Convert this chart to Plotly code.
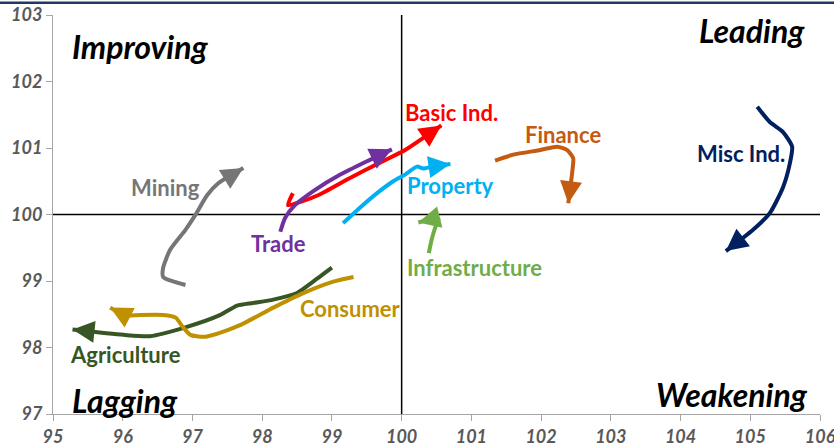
import math
import plotly.graph_objects as go

# ---- data (x = relative strength ratio, y = momentum) ----
basic_x = [98.44, 98.37, 98.55, 98.80, 99.26, 99.69, 100.05, 100.57]
basic_y = [100.32, 100.14, 100.19, 100.29, 100.55, 100.78, 100.97, 101.34]

trade_x = [98.26, 98.33, 98.47, 98.76, 99.12, 99.48, 99.86]
trade_y = [99.74, 99.95, 100.14, 100.37, 100.60, 100.79, 100.98]

property_x = [99.16, 99.41, 99.67, 99.88, 100.05, 100.22, 100.31, 100.44, 100.70]
property_y = [99.87, 100.11, 100.34, 100.50, 100.60, 100.72, 100.69, 100.72, 100.76]

infra_x = [100.39, 100.43, 100.48, 100.53, 100.47, 100.24]
infra_y = [99.42, 99.62, 99.80, 99.93, 99.94, 99.88]

finance_x = [101.34, 101.60, 101.99, 102.23, 102.37, 102.46, 102.45, 102.39]
finance_y = [100.81, 100.90, 100.97, 101.02, 100.97, 100.85, 100.67, 100.17]

misc_x = [105.10, 105.28, 105.47, 105.60, 105.57, 105.47, 105.28, 105.04, 104.65]
misc_y = [101.62, 101.39, 101.24, 101.02, 100.78, 100.41, 100.02, 99.77, 99.45]

mining_x = [96.90, 96.58, 96.58, 96.68, 96.90, 97.04, 97.21, 97.37, 97.73]
mining_y = [98.94, 99.06, 99.20, 99.47, 99.77, 99.99, 100.29, 100.47, 100.70]

agri_x = [99.00, 98.73, 98.50, 98.16, 97.87, 97.64, 97.40, 96.92, 96.39, 96.01, 95.28]
agri_y = [99.20, 98.99, 98.82, 98.72, 98.67, 98.63, 98.49, 98.31, 98.17, 98.19, 98.27]

cons_x = [99.31, 99.02, 98.55, 98.16, 97.69, 97.36, 97.16, 96.97, 96.86, 96.76, 96.58, 96.25, 96.04, 95.82]
cons_y = [99.06, 98.99, 98.80, 98.60, 98.34, 98.21, 98.16, 98.19, 98.31, 98.45, 98.49, 98.49, 98.48, 98.60]

x_ticks = [95, 96, 97, 98, 99, 100, 101, 102, 103, 104, 105, 106]
y_ticks = [97, 98, 99, 100, 101, 102, 103]

series = [
    ("Basic Ind.", basic_x, basic_y, "#FF0000", (100.72, 101.53)),
    ("Trade", trade_x, trade_y, "#7030A0", (98.23, 99.57)),
    ("Property", property_x, property_y, "#00B0F0", (100.70, 100.43)),
    ("Infrastructure", infra_x, infra_y, "#70AD47", (101.04, 99.20)),
    ("Finance", finance_x, finance_y, "#C55A11", (102.32, 101.21)),
    ("Misc Ind.", misc_x, misc_y, "#002060", (104.86, 100.91)),
    ("Mining", mining_x, mining_y, "#767676", (96.61, 100.41)),
    ("Agriculture", agri_x, agri_y, "#375623", (96.04, 97.89)),
    ("Consumer", cons_x, cons_y, "#BF9000", (99.27, 98.58)),
]

W, H = 834, 448
ML, MR, MT, MB = 53, 14, 15, 34
XR, YR = (95, 106), (97, 103)
PX_X = (W - ML - MR) / (XR[1] - XR[0])
PX_Y = (H - MT - MB) / (YR[1] - YR[0])
ARROW_LEN = 22

FONT = "Lato"
fig = go.Figure()
annotations = []
for name, xs, ys, col, lab in series:
    fig.add_trace(go.Scatter(
        x=xs, y=ys, mode="lines", name=name,
        line=dict(color=col, width=4, shape="spline", smoothing=0.6),
        showlegend=False, hoverinfo="skip",
    ))
    # arrowhead at the latest point, oriented along the last segment
    dxp = (xs[-1] - xs[-2]) * PX_X
    dyp = -(ys[-1] - ys[-2]) * PX_Y
    ln = math.hypot(dxp, dyp)
    annotations.append(dict(
        x=xs[-1], y=ys[-1], ax=-dxp / ln * ARROW_LEN, ay=-dyp / ln * ARROW_LEN,
        xref="x", yref="y", axref="pixel", ayref="pixel",
        text="", showarrow=True, arrowhead=2, arrowsize=1.1, arrowwidth=4,
        arrowcolor=col, standoff=0, startstandoff=0,
    ))
    annotations.append(dict(
        x=lab[0], y=lab[1], xref="x", yref="y", text=name, showarrow=False,
        font=dict(family=FONT, size=22, color=col, weight="bold"),
    ))

quad = [
    ("Improving", 95.25, 102.53, "left"),
    ("Leading", 105.82, 102.77, "right"),
    ("Lagging", 95.25, 97.20, "left"),
    ("Weakening", 105.85, 97.29, "right"),
]
for t, qx, qy, anc in quad:
    annotations.append(dict(
        x=qx, y=qy, xref="x", yref="y", text="<i>" + t + "</i>", showarrow=False,
        xanchor=anc, font=dict(family=FONT, size=32, color="#000000", weight="bold"),
    ))

shapes = [
    dict(type="line", xref="x", yref="paper", x0=100, x1=100, y0=0, y1=1,
         line=dict(color="#000000", width=1.5), layer="below"),
    dict(type="line", xref="paper", yref="y", x0=0, x1=1, y0=100, y1=100,
         line=dict(color="#000000", width=1.5), layer="below"),
    dict(type="line", xref="paper", yref="paper", x0=-0.08, x1=1.03, y0=1.031, y1=1.031,
         line=dict(color="#1F3864", width=2.5)),
]

tickfont = dict(family=FONT, size=18, color="#595959", weight="bold", style="italic")
fig.update_layout(
    width=W, height=H,
    margin=dict(l=ML, r=MR, t=MT, b=MB, pad=0),
    paper_bgcolor="white", plot_bgcolor="white",
    xaxis=dict(range=list(XR), tickvals=x_ticks, showgrid=False, zeroline=False,
               automargin=False, ticklabeloverflow="allow",
               showline=True, linecolor="#A6A6A6", linewidth=1,
               ticks="outside", ticklen=6, tickcolor="#A6A6A6", tickfont=tickfont),
    yaxis=dict(range=list(YR), tickvals=y_ticks, showgrid=False, zeroline=False,
               automargin=False, ticklabeloverflow="allow",
               showline=True, linecolor="#A6A6A6", linewidth=1,
               ticks="outside", ticklen=6, tickcolor="#A6A6A6", tickfont=tickfont),
    annotations=annotations, shapes=shapes,
)
fig.write_html("out.html", config={"displayModeBar": False},
               post_script="document.body.style.margin='0';document.body.style.overflow='hidden';")
